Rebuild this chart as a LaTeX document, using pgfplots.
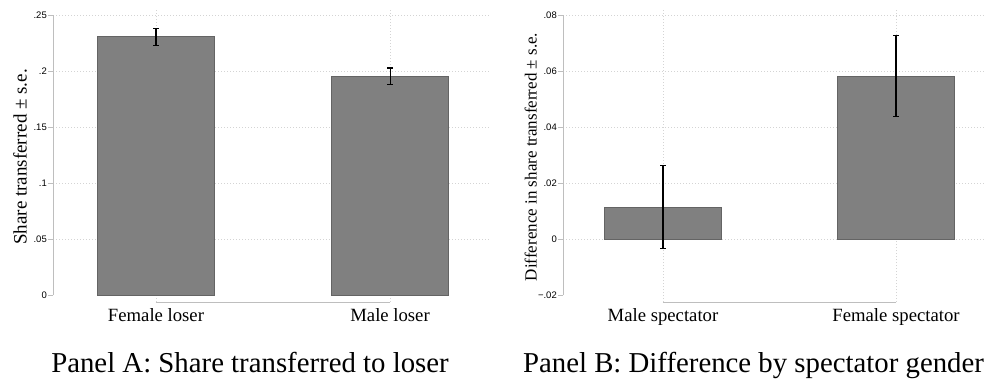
\documentclass[border=0pt]{standalone}
\usepackage{fontspec}
\setmainfont{Liberation Serif}
\newfontfamily\tickfont{Liberation Sans}
\usepackage{pgfplots}
\pgfplotsset{compat=1.18}
\definecolor{barfill}{RGB}{128,128,128}
\definecolor{baredge}{RGB}{100,100,100}
\definecolor{gridc}{RGB}{212,212,212}
\definecolor{axc}{RGB}{190,190,190}
\pgfplotsset{stata/.style={
  scale only axis, anchor=south west, clip=false,
  axis line style={draw=none},
  scaled y ticks=false, scaled x ticks=false,
  xtick={0,1}, xmajorgrids, ymajorgrids,
  grid style={gridc, line width=0.8pt, dash pattern=on 1pt off 2pt},
  tick align=outside, ytick pos=left, xtick pos=bottom,
  major tick length=5pt,
  tick style={axc, line width=0.8pt},
  x tick style={draw=none},
  /pgf/number format/assume math mode=true,
  yticklabel style={font=\tickfont\fontsize{9.5}{11}\selectfont, inner sep=1pt},
  xticklabel style={font=\fontsize{18.7}{22}\selectfont, anchor=base, yshift=-14.5pt},
  extra y tick style={grid=none},
  ybar, bar width=0.5,
}}
\begin{document}
\begin{tikzpicture}
\path[use as bounding box] (0pt,0pt) rectangle (986pt,381pt);
% Panel A
\begin{axis}[stata, at={(53pt,79pt)}, width=437pt, height=293pt,
  xmin=-0.44, xmax=1.427, ymin=-0.00625, ymax=0.25536,
  xticklabels={Female loser, Male loser},
  ytick={0.05,0.1,0.15,0.2,0.25}, yticklabels={.05,.1,.15,.2,.25},
  extra y ticks={0}, extra y tick labels={0}]
\addplot[fill=barfill, draw=baredge, line width=0.8pt,
  error bars/.cd, y dir=both, y explicit, error mark=|,
  error bar style={black, line width=1.1pt},
  error mark options={black, line width=1.1pt, mark size=2.75pt}]
  coordinates {(0,0.2305) +- (0,0.0077) (1,0.1955) +- (0,0.0072)};
\draw[axc, line width=0.8pt] (axis cs:-0.44,0) -- (axis cs:-0.44,0.25);
\draw[axc, line width=0.8pt] (axis cs:0,-0.00625) -- (axis cs:1,-0.00625);
\end{axis}
% Panel B
\begin{axis}[stata, at={(563pt,79pt)}, width=423pt, height=293pt,
  xmin=-0.429, xmax=1.386, ymin=-0.0225, ymax=0.082143,
  xticklabels={Male spectator, Female spectator},
  ytick={0,0.02,0.04,0.06,0.08}, yticklabels={0,.02,.04,.06,.08},
  extra y ticks={-0.02}, extra y tick labels={−.02}]
\addplot[fill=barfill, draw=baredge, line width=0.8pt,
  error bars/.cd, y dir=both, y explicit, error mark=|,
  error bar style={black, line width=1.1pt},
  error mark options={black, line width=1.1pt, mark size=2.75pt}]
  coordinates {(0,0.0113) +- (0,0.0148) (1,0.0582) +- (0,0.0144)};
\draw[axc, line width=0.8pt] (axis cs:-0.429,-0.02) -- (axis cs:-0.429,0.08);
\draw[axc, line width=0.8pt] (axis cs:0,-0.0225) -- (axis cs:1,-0.0225);
\end{axis}
\node[rotate=90, anchor=base, font=\fontsize{19}{22}\selectfont] at (26.5pt,224pt) {Share transferred ± s.e.};
\node[rotate=90, anchor=base, font=\fontsize{17}{20}\selectfont] at (536.5pt,224pt) {Difference in share transferred ± s.e.};
\node[anchor=base, font=\fontsize{28.8}{32}\selectfont] at (250pt,9pt) {Panel A: Share transferred to loser};
\node[anchor=base, font=\fontsize{28.8}{32}\selectfont] at (753.5pt,9pt) {Panel B: Difference by spectator gender};
\end{tikzpicture}
\end{document}
